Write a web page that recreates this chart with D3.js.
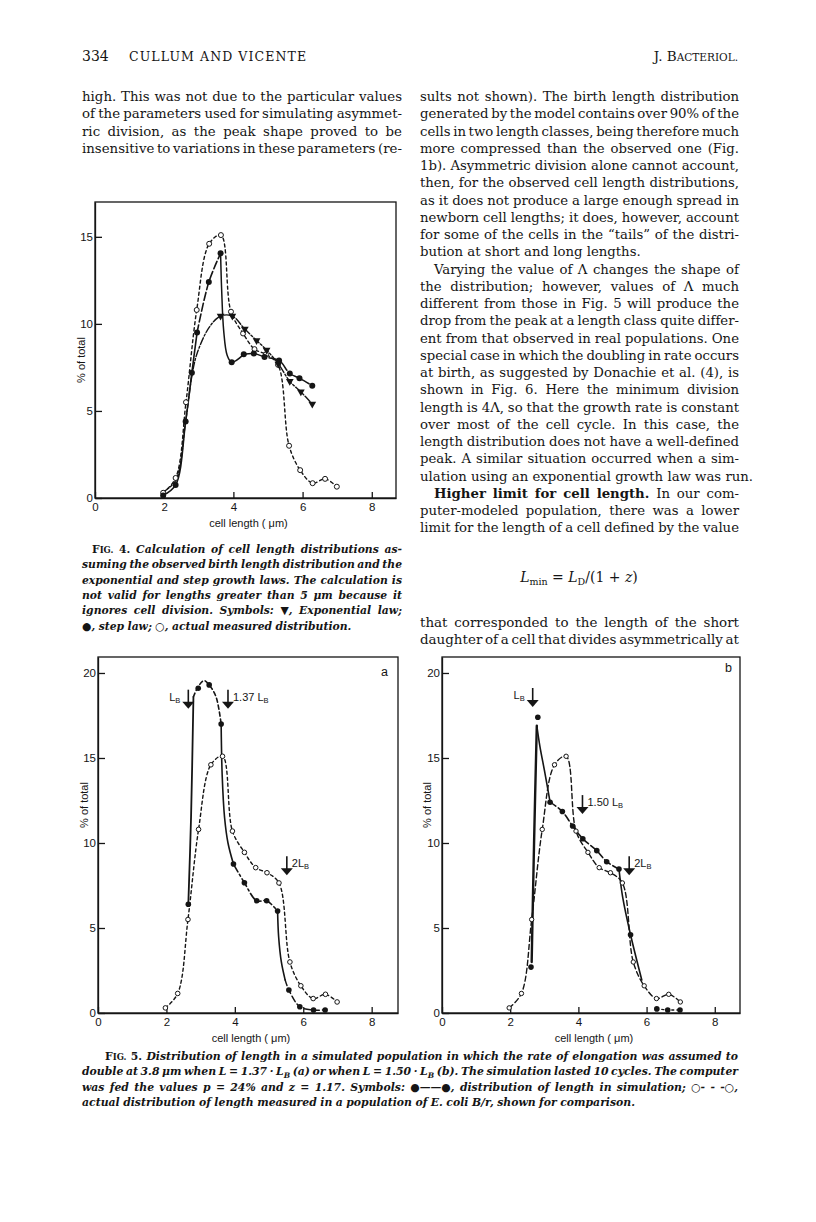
<!DOCTYPE html>
<html><head><meta charset="utf-8">
<script src="https://cdn.jsdelivr.net/npm/d3@7"></script>
<style>body{margin:0;background:#fff}svg{display:block}text,tspan{font-variant-ligatures:none;font-feature-settings:"liga" 0,"clig" 0}</style>
</head><body>
<svg id="page" width="816" height="1222"></svg>
<script>
// ---------------- DATA ----------------
const xTickValues = [0, 2, 4, 6, 8];
const fig4YTickValues = [0, 5, 10, 15];
const fig5YTickValues = [0, 5, 10, 15, 20];

// actual measured distribution (open circles), shared by Fig. 4 and Fig. 5
const measuredX = [1.97, 2.33, 2.63, 2.94, 3.30, 3.64, 3.93, 4.28, 4.61, 4.94, 5.29, 5.61, 5.93, 6.29, 6.65, 6.99];
const measuredY = [0.3, 1.15, 5.5, 10.8, 14.6, 15.1, 10.7, 9.45, 8.55, 8.25, 7.65, 3.0, 1.6, 0.85, 1.1, 0.65];

// Fig. 4 step law: points (filled circles) and traced curve
const fig4StepX = [1.97, 2.33, 2.62, 2.80, 2.95, 3.29, 3.63, 3.95, 4.30, 4.59, 4.90, 5.32, 5.63, 5.91, 6.28];
const fig4StepY = [0.15, 0.75, 4.4, 7.2, 9.5, 12.4, 14.05, 7.8, 8.25, 8.3, 8.1, 7.9, 7.15, 6.88, 6.45];
const fig4StepTraceX = [1.97, 2.33, 2.62, 2.80, 2.95, 3.29, 3.63, 3.66, 3.72, 3.82, 3.95, 4.30, 4.59, 4.90, 5.32, 5.63, 5.91, 6.28];
const fig4StepTraceY = [0.15, 0.75, 4.4, 7.2, 9.5, 12.4, 14.05, 12.0, 9.6, 8.2, 7.8, 8.25, 8.3, 8.1, 7.9, 7.15, 6.88, 6.45];
// Fig. 4 exponential law (triangles)
const fig4ExpX = [1.97, 2.33, 2.62, 2.80, 2.95, 3.30, 3.63, 3.97, 4.33, 4.67, 4.96, 5.30, 5.63, 5.95, 6.28];
const fig4ExpY = [0.35, 1.0, 4.4, 7.0, 8.3, 9.8, 10.45, 10.45, 9.7, 9.05, 8.5, 7.7, 6.7, 6.1, 5.4];

// Fig. 5a simulation: points and traced curve
const fig5aSimX = [2.64, 2.93, 3.25, 3.60, 3.96, 4.28, 4.64, 4.93, 5.25, 5.58, 5.90, 6.30, 6.64];
const fig5aSimY = [6.4, 19.1, 19.3, 17.0, 8.76, 7.66, 6.6, 6.6, 6.0, 1.35, 0.37, 0.18, 0.18];
const fig5aTraceX = [2.64, 2.72, 2.79, 2.93, 3.10, 3.25, 3.45, 3.60, 3.63, 3.70, 3.80, 3.96, 4.28, 4.64, 4.93, 5.25, 5.28, 5.36, 5.47, 5.58, 5.90, 6.30, 6.64];
const fig5aTraceY = [6.4, 11.5, 18.6, 19.2, 19.55, 19.3, 18.6, 17.0, 14.0, 11.5, 10.0, 8.76, 7.66, 6.6, 6.6, 6.0, 4.5, 3.0, 1.95, 1.35, 0.37, 0.18, 0.18];
// Fig. 5b simulation: points and traced curve
const fig5bSimX = [2.61, 2.81, 3.17, 3.53, 3.83, 4.13, 4.54, 4.83, 5.19, 5.53, 6.30, 6.62, 6.98];
const fig5bSimY = [2.7, 17.4, 12.4, 11.85, 11.0, 10.25, 9.55, 8.9, 8.47, 4.6, 0.24, 0.18, 0.18];
const fig5bTraceX = [2.63, 2.70, 2.78, 2.87, 3.02, 3.17, 3.53, 3.83, 4.13, 4.54, 4.83, 5.19, 5.30, 5.53, 5.86];
const fig5bTraceY = [3.0, 10.0, 16.9, 15.7, 14.1, 12.4, 11.85, 11.0, 10.25, 9.55, 8.9, 8.47, 6.8, 4.6, 1.94];

// arrows
const fig5aArrowX = [2.64, 3.80, 5.52];
const fig5aArrowTipY = [17.9, 17.9, 8.1];
const fig5aArrowLabels = ["L_B", "1.37 L_B", "2L_B"];
const fig5bArrowX = [2.66, 4.12, 5.49];
const fig5bArrowTipY = [18.0, 11.7, 8.1];
const fig5bArrowLabels = ["L_B", "1.50 L_B", "2L_B"];

// ---------------- TEXT ----------------
const leftLines = [
 "high. This was not due to the particular values",
 "of the parameters used for simulating asymmet-",
 "ric division, as the peak shape proved to be",
 "insensitive to variations in these parameters (re-"
];
const rightLinesA = [
 "sults not shown). The birth length distribution",
 "generated by the model contains over 90% of the",
 "cells in two length classes, being therefore much",
 "more compressed than the observed one (Fig.",
 "1b). Asymmetric division alone cannot account,",
 "then, for the observed cell length distributions,",
 "as it does not produce a large enough spread in",
 "newborn cell lengths; it does, however, account",
 "for some of the cells in the \u201ctails\u201d of the distri-",
 "bution at short and long lengths.⏎",
 "→Varying the value of Λ changes the shape of",
 "the distribution; however, values of Λ much",
 "different from those in Fig. 5 will produce the",
 "drop from the peak at a length class quite differ-",
 "ent from that observed in real populations. One",
 "special case in which the doubling in rate occurs",
 "at birth, as suggested by Donachie et al. (4), is",
 "shown in Fig. 6. Here the minimum division",
 "length is 4Λ, so that the growth rate is constant",
 "over most of the cell cycle. In this case, the",
 "length distribution does not have a well-defined",
 "peak. A similar situation occurred when a sim-",
 "ulation using an exponential growth law was run.⏎",
 "→§Higher limit for cell length.§ In our com-",
 "puter-modeled population, there was a lower",
 "limit for the length of a cell defined by the value"
];
const rightLinesB = [
 "that corresponded to the length of the short",
 "daughter of a cell that divides asymmetrically at"
];
const fig4Caption = [
 "→¶F‹IG.› 4.¶ Calculation of cell length distributions as-",
 "suming the observed birth length distribution and the",
 "exponential and step growth laws. The calculation is",
 "not valid for lengths greater than 5 μm because it",
 "ignores cell division. Symbols: ▼, Exponential law;",
 "●, step law; ○, actual measured distribution.⏎"
];
const fig5Caption = [
 "→¶F‹IG.› 5.¶ Distribution of length in a simulated population in which the rate of elongation was assumed to",
 "double at 3.8 μm when L = 1.37 · L_{B} (a) or when L = 1.50 · L_{B} (b). The simulation lasted 10 cycles. The computer",
 "was fed the values p = 24% and z = 1.17. Symbols: ●——●, distribution of length in simulation; ○- - -○,",
 "actual distribution of length measured in a population of E. coli B/r, shown for comparison.⏎"
];

// ---------------- RENDER ----------------
const svg = d3.select('#page');
const SERIF = "'DejaVu Serif', serif";
const SANS = "'Liberation Sans', Arial, sans-serif";
const INK = '#151515';

function parseLine(str) {
  let indent = false, justify = true;
  if (str.startsWith('→')) { indent = true; str = str.slice(1); }
  if (str.endsWith('⏎')) { justify = false; str = str.slice(0, -1); }
  const st = {bold:false, up:false, sc:false, sub:false};
  const words = str.split(' ').map(w => {
    const segs = []; let cur = '';
    const push = () => { if (cur) segs.push({t:cur, bold:st.bold, up:st.up, sc:st.sc, sub:st.sub}); cur = ''; };
    for (let i = 0; i < w.length; i++) {
      const c = w[i];
      if (c === '§') { push(); st.bold = !st.bold; }
      else if (c === '¶') { push(); st.up = !st.up; }
      else if (c === '‹') { push(); st.sc = true; }
      else if (c === '›') { push(); st.sc = false; }
      else if (c === '_' && w[i+1] === '{') { push(); st.sub = true; i++; }
      else if (c === '}' && st.sub) { push(); st.sub = false; }
      else cur += c;
    }
    push();
    return segs;
  });
  return {indent, justify, words};
}

function renderWord(textEl, segs, fs, opt) {
  const out = []; let prevSub = false;
  segs.forEach((s, i) => {
    const size = s.sc ? fs * 0.78 : s.sub ? fs * 0.7 : fs;
    const ts = textEl.append('tspan').text(s.sc ? s.t.toUpperCase() : s.t)
      .attr('font-size', size)
      .attr('font-weight', s.bold ? 'bold' : opt.weight)
      .attr('font-style', (opt.italic && !s.up) ? 'italic' : 'normal');
    if (i === 0) ts.attr('x', 0).attr('y', 0);
    let dy = 0;
    if (s.sub && !prevSub) dy = fs * 0.25;
    if (!s.sub && prevSub) dy = -fs * 0.25;
    if (dy) ts.attr('dy', dy);
    prevSub = s.sub;
    out.push(ts);
  });
  return out;
}

function drawBlock(lines, opt) {
  const g = svg.append('g');
  const parsed = lines.map(parseLine);
  let fs = opt.fs;
  const tmp = g.append('text').attr('font-family', opt.family);
  parsed.forEach(p => {
    if (!p.justify || p.words.length < 2) return;
    let total = 0;
    p.words.forEach(ws => renderWord(tmp, ws, opt.fs, opt).forEach(t => total += t.node().getComputedTextLength()));
    tmp.selectAll('*').remove();
    const avail = opt.width - (p.indent ? opt.indent : 0) - opt.minGap * (p.words.length - 1);
    fs = Math.min(fs, opt.fs * avail / total);
  });
  tmp.remove();
  parsed.forEach((p, i) => {
    const y = opt.y0 + i * opt.lh;
    const t = g.append('text').attr('font-family', opt.family).attr('fill', INK);
    const x0 = opt.x + (p.indent ? opt.indent : 0);
    const W = opt.x + opt.width - x0;
    const wt = p.words.map(ws => renderWord(t, ws, fs, opt));
    const widths = wt.map(ts => d3.sum(ts, s => s.node().getComputedTextLength()));
    const n = widths.length;
    const gap = (p.justify && n > 1) ? (W - d3.sum(widths)) / (n - 1) : fs * 0.32;
    let x = x0;
    wt.forEach((ts, k) => { ts[0].attr('x', x).attr('y', y); x += widths[k] + gap; });
  });
}

// header
svg.append('text').attr('x', 82).attr('y', 61).attr('font-family', SERIF).attr('font-size', 14).attr('fill', INK).text('334');
svg.append('text').attr('x', 129).attr('y', 61).attr('font-family', SERIF).attr('font-size', 12.5).attr('fill', INK)
  .attr('textLength', 177).attr('lengthAdjust', 'spacing').text('CULLUM AND VICENTE');
const hdr = svg.append('text').attr('x', 738).attr('y', 61).attr('text-anchor', 'end').attr('font-family', SERIF).attr('fill', INK);
hdr.append('tspan').attr('font-size', 13.5).text('J. B');
hdr.append('tspan').attr('font-size', 10.5).text('ACTERIOL.');

const bodyOpt = {family: SERIF, fs: 13.5, weight: 'normal', italic: false, minGap: 2.6, lh: 17.25, indent: 14};
drawBlock(leftLines, Object.assign({}, bodyOpt, {x: 82, width: 320, y0: 101}));
drawBlock(rightLinesA, Object.assign({}, bodyOpt, {x: 420, width: 319, y0: 101}));
drawBlock(rightLinesB, Object.assign({}, bodyOpt, {x: 420, width: 319, y0: 627}));

// equation
const eq = svg.append('text').attr('x', 579).attr('y', 582).attr('text-anchor', 'middle')
  .attr('font-family', SERIF).attr('font-size', 14).attr('fill', INK).style('white-space', 'pre');
eq.append('tspan').attr('font-style', 'italic').text('L');
eq.append('tspan').attr('font-size', 9.5).attr('dy', 3).text('min');
eq.append('tspan').attr('dy', -3).text(' = ');
eq.append('tspan').attr('font-style', 'italic').text('L');
eq.append('tspan').attr('font-size', 9.5).attr('dy', 3).text('D');
eq.append('tspan').attr('dy', -3).text('/(1 + ');
eq.append('tspan').attr('font-style', 'italic').text('z');
eq.append('tspan').text(')');

const capOpt = {family: SERIF, fs: 12.2, weight: 'bold', italic: true, minGap: 2.6};
drawBlock(fig4Caption, Object.assign({}, capOpt, {x: 82, width: 320, y0: 553, lh: 15.3, indent: 10}));
drawBlock(fig5Caption, Object.assign({}, capOpt, {x: 82, width: 656, y0: 1060, lh: 15.3, indent: 23}));

// ---------------- CHARTS ----------------
function zip(xs, ys) { return xs.map((v, i) => [v, ys[i]]); }

function drawChart(cfg) {
  const g = svg.append('g');
  const x = d3.scaleLinear().domain(cfg.xDomain).range(cfg.xRange);
  const y = d3.scaleLinear().domain(cfg.yDomain).range(cfg.yRange);
  g.append('rect').attr('x', cfg.xRange[0]).attr('y', cfg.yRange[1])
    .attr('width', cfg.xRange[1] - cfg.xRange[0]).attr('height', cfg.yRange[0] - cfg.yRange[1])
    .attr('fill', 'none').attr('stroke', INK).attr('stroke-width', 1.3);
  const ax = g.append('g').attr('transform', `translate(0,${cfg.yRange[0]})`)
    .call(d3.axisBottom(x).tickValues(xTickValues).tickSize(-6).tickSizeOuter(0).tickPadding(3).tickFormat(d3.format('d')));
  const ay = g.append('g').attr('transform', `translate(${cfg.xRange[0]},0)`)
    .call(d3.axisLeft(y).tickValues(cfg.yTicks).tickSize(-7).tickSizeOuter(0).tickPadding(2).tickFormat(d3.format('d')));
  [ax, ay].forEach(a => {
    a.attr('font-family', SANS).attr('font-size', 11.5);
    a.selectAll('line, path').attr('stroke', INK).attr('stroke-width', 1.3);
    a.selectAll('text').attr('fill', INK);
  });
  ax.selectAll('text').attr('dy', '0.85em');
  g.append('text').attr('x', (cfg.xRange[0] + cfg.xRange[1]) / 2 + 3).attr('y', cfg.yRange[0] + 29)
    .attr('text-anchor', 'middle').attr('font-family', SANS).attr('font-size', 11).attr('fill', INK).text('cell length ( μm)');
  g.append('text').attr('transform', `translate(${cfg.yLabelX},${cfg.yLabelY}) rotate(-90)`)
    .attr('text-anchor', 'middle').attr('font-family', SANS).attr('font-size', 11).attr('fill', INK).text('% of total');
  if (cfg.panel) g.append('text').attr('x', cfg.panel[1]).attr('y', cfg.panel[2]).attr('font-family', SANS)
    .attr('font-size', 12.5).attr('fill', INK).text(cfg.panel[0]);
  return {g, x, y};
}

function path(ch, pts, dash, width) {
  const line = d3.line().x(d => ch.x(d[0])).y(d => ch.y(d[1])).curve(d3.curveCatmullRom.alpha(0.5));
  ch.g.append('path').attr('d', line(pts)).attr('fill', 'none').attr('stroke', INK)
    .attr('stroke-width', width || 1.4).attr('stroke-dasharray', dash || null).attr('stroke-linecap', 'round');
}
function segs(ch, pts, spec) {
  spec.forEach(s => path(ch, pts.slice(s[0], s[1] + 1), s[2], s[3]));
}
function openCircles(ch, pts, r) {
  ch.g.selectAll(null).data(pts).join('circle').attr('cx', d => ch.x(d[0])).attr('cy', d => ch.y(d[1]))
    .attr('r', r || 2.5).attr('fill', '#fff').attr('stroke', INK).attr('stroke-width', 1);
}
function dots(ch, pts, r) {
  ch.g.selectAll(null).data(pts).join('circle').attr('cx', d => ch.x(d[0])).attr('cy', d => ch.y(d[1]))
    .attr('r', r || 3).attr('fill', INK);
}
function triangles(ch, pts) {
  const sym = d3.symbol().type(d3.symbolTriangle).size(26);
  ch.g.selectAll(null).data(pts).join('path').attr('d', sym)
    .attr('transform', d => `translate(${ch.x(d[0])},${ch.y(d[1])}) rotate(180)`).attr('fill', INK);
}
function arrows(ch, xs, tips, labels) {
  xs.forEach((xv, i) => {
    const px = ch.x(xv), py = ch.y(tips[i]);
    ch.g.append('line').attr('x1', px).attr('x2', px).attr('y1', py - 19).attr('y2', py - 5)
      .attr('stroke', INK).attr('stroke-width', 1.6);
    ch.g.append('path').attr('d', `M${px - 6},${py - 7}L${px + 6},${py - 7}L${px},${py}Z`).attr('fill', INK);
    const left = i === 0;
    const t = ch.g.append('text').attr('x', left ? px - 8 : px + 5).attr('y', py - 8)
      .attr('text-anchor', left ? 'end' : 'start').attr('font-family', SANS).attr('font-size', 11).attr('fill', INK);
    const parts = labels[i].split('_');
    t.append('tspan').text(parts[0]);
    if (parts[1]) t.append('tspan').attr('font-size', 7.5).attr('dy', 2).text(parts[1]);
  });
}

const measured = zip(measuredX, measuredY);

// Fig. 4
const f4 = drawChart({xDomain: [0, 8.7], xRange: [95, 396], yDomain: [0, 17], yRange: [498, 202],
  yTicks: fig4YTickValues, yLabelX: 85, yLabelY: 360});
path(f4, measured, '3,3', 1.4);
path(f4, zip(fig4ExpX, fig4ExpY), '7,2,2,2', 1.4);
const step4 = zip(fig4StepTraceX, fig4StepTraceY);
segs(f4, step4, [[0, 4, null, 1.6], [4, 6, '8,3', 1.6], [6, 11, null, 1.5], [11, 17, '10,3', 1.5]]);
openCircles(f4, measured);
dots(f4, zip(fig4StepX, fig4StepY), 3);
triangles(f4, zip(fig4ExpX, fig4ExpY).slice(6));

// Fig. 5a
const f5a = drawChart({xDomain: [0, 8.77], xRange: [98, 398], yDomain: [0, 20.94], yRange: [1013, 657],
  yTicks: fig5YTickValues, yLabelX: 88, yLabelY: 805, panel: ['a', 381, 676]});
path(f5a, measured, '3,3', 1.4);
segs(f5a, zip(fig5aTraceX, fig5aTraceY), [[0, 2, null, 1.8], [2, 7, '4,3', 1.6], [7, 11, null, 1.6], [11, 15, '9,3,2,3', 1.6], [15, 18, null, 1.6], [18, 22, '6,3', 1.5]]);
openCircles(f5a, measured, 2.3);
dots(f5a, zip(fig5aSimX, fig5aSimY), 2.8);
arrows(f5a, fig5aArrowX, fig5aArrowTipY, fig5aArrowLabels);

// Fig. 5b
const f5b = drawChart({xDomain: [0, 8.74], xRange: [442, 740], yDomain: [0, 20.94], yRange: [1013, 657],
  yTicks: fig5YTickValues, yLabelX: 431, yLabelY: 805, panel: ['b', 725, 672]});
path(f5b, measured, '5,3', 1.4);
const sim5b = zip(fig5bSimX, fig5bSimY);
segs(f5b, zip(fig5bTraceX, fig5bTraceY), [[0, 2, null, 2.4], [2, 5, null, 1.6], [5, 11, '7,3', 1.6], [11, 14, null, 1.6]]);
path(f5b, sim5b.slice(10), '2,3', 1.3);
openCircles(f5b, measured, 2.2);
dots(f5b, sim5b, 2.8);
arrows(f5b, fig5bArrowX, fig5bArrowTipY, fig5bArrowLabels);
</script>
</body></html>
